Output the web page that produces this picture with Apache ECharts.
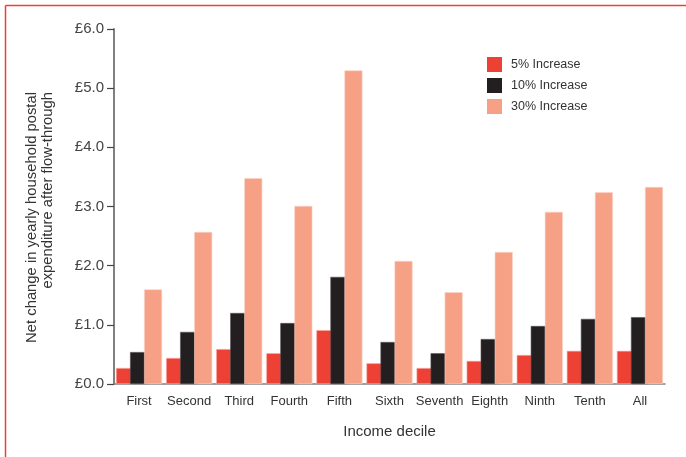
<!DOCTYPE html>
<html><head><meta charset="utf-8">
<script src="https://cdn.jsdelivr.net/npm/echarts@6/dist/echarts.min.js"></script>
<style>html,body{margin:0;padding:0;background:#fff}#c{width:686px;height:457px}</style>
</head><body><div id="c"></div>
<script>
const categories = ['First','Second','Third','Fourth','Fifth','Sixth','Seventh','Eighth','Ninth','Tenth','All'];
const inc5  = [0.27,0.44,0.59,0.52,0.91,0.35,0.27,0.39,0.49,0.56,0.56];
const inc10 = [0.54,0.88,1.20,1.03,1.81,0.71,0.52,0.76,0.98,1.10,1.13];
const inc30 = [1.60,2.57,3.48,3.01,5.30,2.08,1.55,2.23,2.91,3.24,3.33];
const yTicks = [0,1,2,3,4,5,6];
const seriesNames = ['5% Increase','10% Increase','30% Increase'];
const yTitle = 'Net change in yearly household postal\nexpenditure after flow-through';
const xTitle = 'Income decile';
const colors = ['#EE4136','#231F20','#F6A086'];
const borders = ['#F7A9A3','#555052','#FBD3C6'];
const F = 'Liberation Sans, Arial, sans-serif';
const chart = echarts.init(document.getElementById('c'));
const mk = (name, data, i) => ({
  name, type:'bar', data, barWidth:18, barGap:'-22%',
  itemStyle:{color:colors[i], borderColor:borders[i], borderWidth:0.6},
  z: 2 + i
});
chart.setOption({
  animation:false,
  textStyle:{fontFamily:F},
  graphic:[
    {type:'line', shape:{x1:5.5,y1:5.5,x2:686,y2:5.5}, style:{stroke:'#EE4136', lineWidth:1.5}},
    {type:'line', shape:{x1:5.5,y1:5.5,x2:5.5,y2:457}, style:{stroke:'#EE4136', lineWidth:1.5}},
    {type:'text', x:40, y:92, rotation:Math.PI/2,
      style:{text:yTitle, fill:'#333', font:'14.8px ' + F, align:'right', verticalAlign:'middle', lineHeight:16}}
  ],
  legend:{
    orient:'vertical', left:487, top:57, padding:0, itemWidth:15, itemHeight:15, itemGap:6,
    icon:'rect', data:seriesNames,
    itemStyle:{borderWidth:0},
    textStyle:{fontSize:12.5, color:'#333', fontFamily:F, padding:[0,0,0,4], lineHeight:15, height:15}
  },
  grid:{left:114, right:21, top:29, bottom:73, containLabel:false},
  xAxis:{
    type:'category', data:categories,
    name:xTitle, nameLocation:'middle', nameGap:40,
    nameTextStyle:{fontSize:15, color:'#333', fontFamily:F},
    axisLine:{lineStyle:{color:'#808080', width:1.5}},
    axisTick:{length:7, lineStyle:{color:'#444', width:1.2}},
    axisLabel:{fontSize:13, color:'#333', margin:11, fontFamily:F, interval:0}
  },
  yAxis:{
    type:'value', min:yTicks[0], max:yTicks[yTicks.length-1], interval:1,
    splitLine:{show:false},
    axisLine:{show:true, lineStyle:{color:'#808080', width:2}},
    axisTick:{show:true, length:7, lineStyle:{color:'#444', width:1.2}},
    axisLabel:{fontSize:15, color:'#444', margin:10, fontFamily:F,
      formatter:v => '£' + v.toFixed(1)}
  },
  series:[mk(seriesNames[0], inc5, 0), mk(seriesNames[1], inc10, 1), mk(seriesNames[2], inc30, 2)]
});
</script></body></html>
